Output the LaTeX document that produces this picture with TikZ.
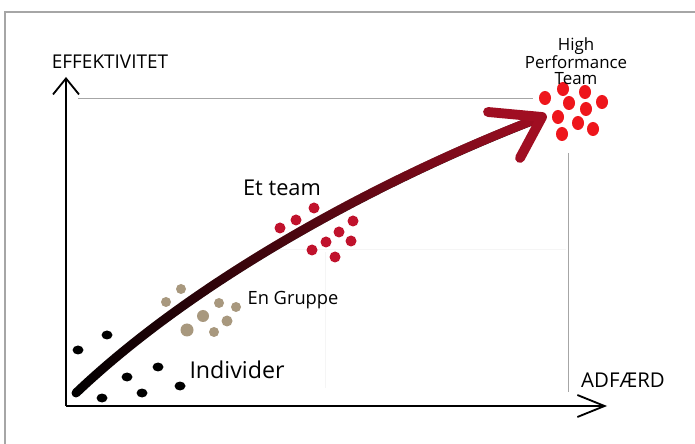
\documentclass[tikz,border=0pt]{standalone}
\usepackage{fontspec}
\setmainfont{Open Sans}
\usepackage{tikz}
\usetikzlibrary{arrows.meta,fadings}
\definecolor{shaftred}{RGB}{160,14,34}
\definecolor{teamred}{RGB}{192,18,44}
\definecolor{hpred}{RGB}{238,22,28}
\definecolor{gruppetan}{RGB}{168,152,126}
\tikzfading[name=fade in east, left color=transparent!100, middle color=transparent!45, right color=transparent!0]

\begin{document}
\begin{tikzpicture}
[x=0.025cm, y=-0.025cm,
frame/.style={gray!70, line width = 0.8pt},
axis/.style={black, line width = 1.3pt},
guide/.style={gray!70, line width = 0.6pt},
faint/.style={black!4, line width = 0.5pt},
shaft/.style={line width = 6.4pt, line cap = round},
barb/.style={shaftred, line width = 7pt, line cap = round, line join = round},
hand/.style={inner sep = 0pt}]
\useasboundingbox (0,0) rectangle (695,444);
\draw[frame] (5,444) -- (5,12) -- (695,12);
% guide lines
\draw[guide] (78,98) -- (533,98);
\draw[guide] (568,153) -- (568,392);
\draw[faint] (270,249) -- (566,249);
\draw[faint] (325,252) -- (325,388);
% axes
\draw[axis, -{Straight Barb[length=4mm, width=6.5mm]}] (66,406) -- (66,77);
\draw[axis, -{Straight Barb[length=6.8mm, width=5.5mm]}] (66,406) -- (607,406);
\node[hand, font=\fontsize{13.5}{16}\selectfont] (effektivitet) at (110,62) {EFFEKTIVITET};
\node[hand, font=\fontsize{14.5}{16}\selectfont] (adfaerd) at (623,380) {ADFÆRD};
% dots
\foreach \x/\y in {78/350, 107/335, 127/377, 158/367, 102/398, 142/393, 180/386}
  \fill[black] (\x,\y) ellipse [x radius=5.5, y radius=4.5];
\foreach \x/\y/\r in {166/302/5, 181/289/5, 203/316/6, 187/330/6.5, 214/332/5, 219/303/5, 227/321/5.5, 236/307/5}
  \fill[gruppetan] (\x,\y) circle [radius=\r];
\foreach \x/\y in {280/228, 296/220, 314/208, 312/250, 326/242, 335/257, 339/232, 351/241, 353/221}
  \fill[teamred] (\x,\y) circle [radius=5.5];
\foreach \x/\y in {545/98, 563/89, 585/92, 602/102, 569/103, 586/109, 558/117, 578/123, 593/129, 562/134}
  \fill[hpred] (\x,\y) ellipse [x radius=6, y radius=7];
% the curve
\draw[shaft, black] (76,393) .. controls (200,275) and (390,175) .. (542,117);
\draw[shaft, shaftred, path fading=fade in east] (76,393) .. controls (200,275) and (390,175) .. (542,117);
\draw[barb] (488,112) -- (542,117) -- (520,158);
% labels
\node[hand, font=\fontsize{16.5}{18}\selectfont] (individer) at (237,370) {Individer};
\node[hand, font=\fontsize{13}{15}\selectfont] (gruppe) at (293,300) {En Gruppe};
\node[hand, font=\fontsize{15.5}{17}\selectfont] (team) at (282,188) {Et team};
\node[hand, font=\fontsize{12}{11}\selectfont, align=center] (hpteam) at (576,61) {High\\Performance\\Team};
\end{tikzpicture}
\end{document}
